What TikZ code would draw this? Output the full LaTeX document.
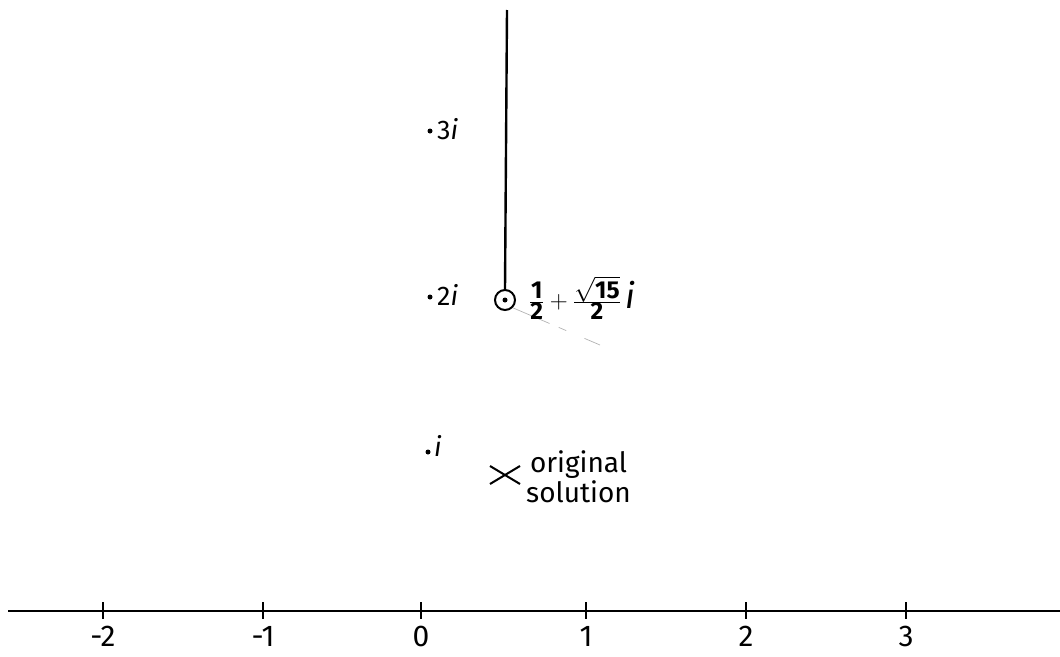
\documentclass[tikz,border=0pt]{standalone}
\usepackage{fontspec}
\setmainfont{Fira Sans}
\begin{document}
\begin{tikzpicture}[x=1pt,y=-1pt,
  ax/.style={line width=2.4pt,black},
  tick/.style={line width=1.8pt},
  axlab/.style={font=\fontsize{30}{30}\selectfont},
  imlab/.style={font=\fontsize{27}{27}\selectfont,anchor=west,inner sep=1pt},
  pt/.style={circle,fill=black,inner sep=0pt,minimum size=5pt}]
\useasboundingbox (0,0) rectangle (1060,656);
% real axis
\coordinate (axL) at (8,611);
\coordinate (axR) at (1060,611);
\draw[ax] (axL) -- (axR);
\foreach \n/\x/\l in {m2/103/-2,m1/263/-1,z/421/0,p1/586/1,p2/746/2,p3/906/3}{
  \coordinate (t\n) at (\x,611);
  \draw[tick] (\x,602) -- (\x,619);
  \node[axlab] (l\n) at (\x,636) {\l};
}
% imaginary points
\node[pt] (d3) at (430,131) {};
\node[imlab] (i3) at (436,129) {3\itshape i};
\node[pt] (d2) at (430,297) {};
\node[imlab] (i2) at (436,295) {2\itshape i};
\node[pt] (d1) at (428,452) {};
\node[imlab] (i1) at (433,446) {\itshape i};
% root point
\node[circle,draw,line width=2pt,minimum size=20pt,inner sep=0pt] (c) at (505,300) {};
\node[pt,minimum size=5pt] (cd) at (505,300) {};
\coordinate (top) at (507,10);
\draw[line width=2.4pt] (c.north) -- (top);
\coordinate (red) at (600,345);
\draw[gray!60,line width=0.7pt,dash pattern=on 40pt off 10pt on 8pt off 20pt] (c.south east) -- (red);
\node[anchor=west,font=\fontsize{35}{35}\selectfont,inner sep=0pt] (frac) at (529,298) {$\frac{\mathbf{1}}{\mathbf{2}}+\frac{\sqrt{\mathbf{15}}}{\mathbf{2}}\,\mathit{i}$};
% original solution
\coordinate (xc) at (505,475);
\draw[line width=2pt] (490,466) -- (520,484) (490,484) -- (520,466);
\node[anchor=west,font=\fontsize{28}{28}\selectfont,align=center,inner sep=0pt] (orig) at (526,477) {original\\[2pt]solution};
\end{tikzpicture}
\end{document}
